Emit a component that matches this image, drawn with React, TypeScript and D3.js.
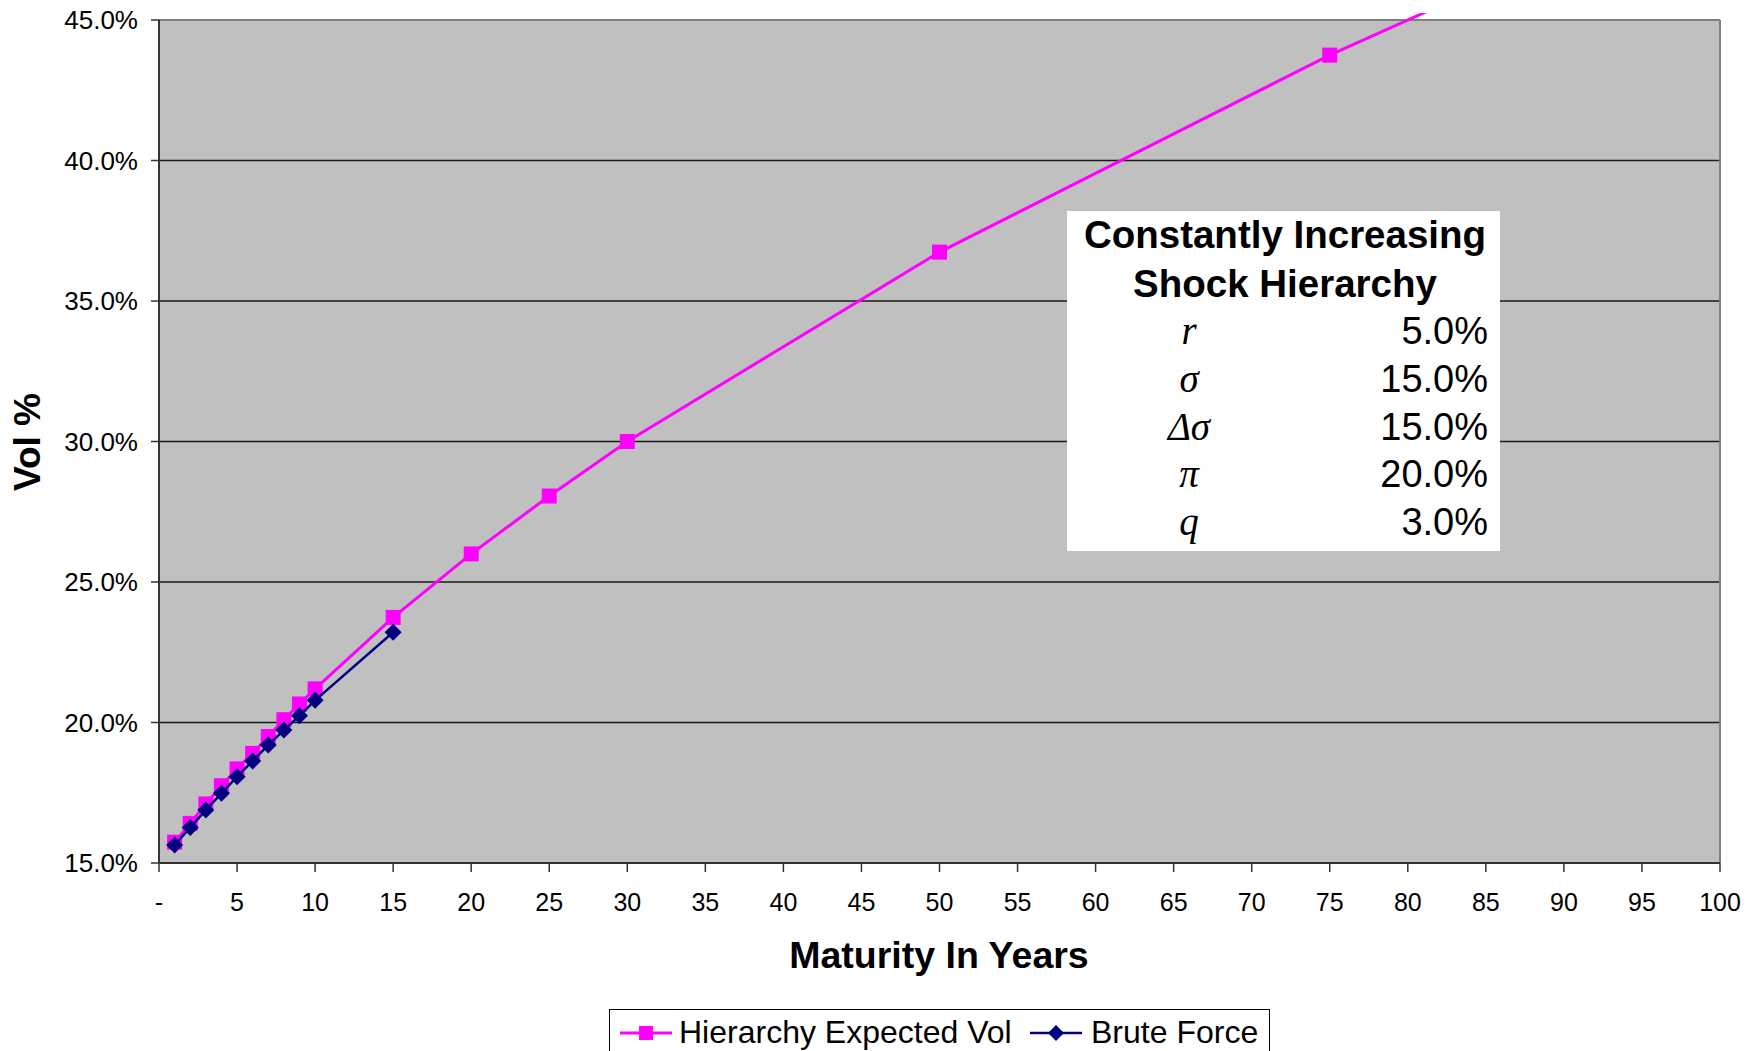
import React from "react";
import * as d3 from "d3";

// Maturities (years) and vols for the hierarchy model
const hierarchyYears = [1, 2, 3, 4, 5, 6, 7, 8, 9, 10, 15, 20, 25, 30, 50, 75, 100];
const hierarchyVol = [
  0.1574, 0.1641, 0.171, 0.1775, 0.1835, 0.189, 0.195, 0.201, 0.2066, 0.212,
  0.2374, 0.26, 0.2806, 0.3, 0.3674, 0.4375, 0.5,
];

// Brute-force simulation results
const bruteYears = [1, 2, 3, 4, 5, 6, 7, 8, 9, 10, 15];
const bruteVol = [
  0.1564, 0.1626, 0.1689, 0.1748, 0.1807, 0.1863, 0.192, 0.1973, 0.2024, 0.2079,
  0.2321,
];

const xTicks = d3.range(0, 101, 5);
const yTicks = [0.15, 0.2, 0.25, 0.3, 0.35, 0.4, 0.45];

const paramSymbols = ["r", "σ", "Δσ", "π", "q"];
const paramValues = ["5.0%", "15.0%", "15.0%", "20.0%", "3.0%"];

const seriesNames = ["Hierarchy Expected Vol", "Brute Force"];

const W = 1757;
const H = 1051;
const PL = 159;
const PR = 1720;
const PT = 20;
const PB = 863;

const PINK = "#FF00FF";
const NAVY = "#000080";
const SANS = "Arial, 'Liberation Sans', Helvetica, sans-serif";
const SERIF = "'Times New Roman', 'Liberation Serif', serif";

export default function App() {
  const x = d3.scaleLinear().domain([0, 100]).range([PL, PR]);
  const y = d3.scaleLinear().domain([0.15, 0.45]).range([PB, PT]);

  const line = d3
    .line<[number, number]>()
    .x((d) => x(d[0]))
    .y((d) => y(d[1]));

  const hier: [number, number][] = hierarchyYears.map((t, i) => [t, hierarchyVol[i]]);
  const brute: [number, number][] = bruteYears.map((t, i) => [t, bruteVol[i]]);

  const fmtX = (v: number) => (v === 0 ? "-" : String(v));
  const fmtY = d3.format(".1%");

  const diamond = (cx: number, cy: number, r: number) =>
    `M${cx},${cy - r}L${cx + r},${cy}L${cx},${cy + r}L${cx - r},${cy}Z`;

  const sq = 15;
  const dm = 8.5;

  // Legend geometry
  const legY = 1033;
  const leg1x0 = 620;
  const leg1x1 = 672;
  const leg2x0 = 1030;
  const leg2x1 = 1082;

  // Parameter box
  const boxX = 1067;
  const boxY = 211;
  const boxW = 433;
  const boxH = 340;
  const rowBase0 = 344;
  const rowStep = 47.8;

  return (
    <svg
      width={W}
      height={H}
      style={{ position: "absolute", left: 0, top: 0, display: "block", background: "#fff" }}
      fontFamily={SANS}
    >
      <defs>
        <clipPath id="series-clip">
          <rect x={PL} y={13} width={PR - PL} height={PB - 13} />
        </clipPath>
      </defs>

      {/* plot area */}
      <rect x={PL} y={PT} width={PR - PL} height={PB - PT} fill="#C0C0C0" />

      {/* gridlines */}
      {yTicks.slice(1, -1).map((t) => (
        <line key={t} x1={PL} x2={PR} y1={y(t)} y2={y(t)} stroke="#1a1a1a" strokeWidth={1.4} />
      ))}

      {/* plot border */}
      <line x1={PL} x2={PR} y1={PT} y2={PT} stroke="#808080" strokeWidth={2} />
      <line x1={PR} x2={PR} y1={PT} y2={PB} stroke="#808080" strokeWidth={2} />

      {/* axes */}
      <line x1={PL} x2={PL} y1={PT} y2={PB} stroke="#333" strokeWidth={2} />
      <line x1={PL} x2={PR} y1={PB} y2={PB} stroke="#333" strokeWidth={2} />

      {/* y ticks and labels */}
      {yTicks.map((t) => (
        <g key={t}>
          <line x1={PL - 8} x2={PL} y1={y(t)} y2={y(t)} stroke="#333" strokeWidth={1.5} />
          <text x={138} y={y(t)} dy="0.36em" textAnchor="end" fontSize={26} fill="#000">
            {fmtY(t)}
          </text>
        </g>
      ))}

      {/* x ticks and labels */}
      {xTicks.map((t) => (
        <g key={t}>
          <line x1={x(t)} x2={x(t)} y1={PB} y2={PB + 9} stroke="#333" strokeWidth={1.5} />
          <text x={x(t)} y={911} textAnchor="middle" fontSize={25} fill="#000">
            {fmtX(t)}
          </text>
        </g>
      ))}

      {/* axis titles */}
      <text x={939} y={968} textAnchor="middle" fontSize={37.5} fontWeight="bold">
        Maturity In Years
      </text>
      <text
        transform={`translate(40,442) rotate(-90)`}
        textAnchor="middle"
        fontSize={37}
        fontWeight="bold"
      >
        Vol %
      </text>

      {/* series */}
      <g clipPath="url(#series-clip)">
        <path d={line(hier) ?? ""} fill="none" stroke={PINK} strokeWidth={3} />
        {hier.map(([t, v]) => (
          <rect key={t} x={x(t) - sq / 2} y={y(v) - sq / 2} width={sq} height={sq} fill={PINK} />
        ))}
        <path d={line(brute) ?? ""} fill="none" stroke={NAVY} strokeWidth={2.5} />
        {brute.map(([t, v]) => (
          <path key={t} d={diamond(x(t), y(v), dm)} fill={NAVY} />
        ))}
      </g>

      {/* parameter box */}
      <rect x={boxX} y={boxY} width={boxW} height={boxH} fill="#fff" />
      <text x={1285} y={248} textAnchor="middle" fontSize={38.5} fontWeight="bold">
        Constantly Increasing
      </text>
      <text x={1285} y={297} textAnchor="middle" fontSize={38.5} fontWeight="bold">
        Shock Hierarchy
      </text>
      {paramSymbols.map((s, i) => (
        <g key={i}>
          <text
            x={1189}
            y={rowBase0 + i * rowStep}
            textAnchor="middle"
            fontSize={39}
            fontStyle="italic"
            fontFamily={SERIF}
          >
            {s}
          </text>
          <text x={1488} y={rowBase0 + i * rowStep} textAnchor="end" fontSize={38}>
            {paramValues[i]}
          </text>
        </g>
      ))}

      {/* legend */}
      <rect x={609.5} y={1009.5} width={660} height={60} fill="#fff" stroke="#000" strokeWidth={1} />
      <line x1={leg1x0} x2={leg1x1} y1={legY} y2={legY} stroke={PINK} strokeWidth={3} />
      <rect x={(leg1x0 + leg1x1) / 2 - 7} y={legY - 7} width={14} height={14} fill={PINK} />
      <text x={679} y={1043} fontSize={32}>
        {seriesNames[0]}
      </text>
      <line x1={leg2x0} x2={leg2x1} y1={legY} y2={legY} stroke={NAVY} strokeWidth={2.5} />
      <path d={diamond((leg2x0 + leg2x1) / 2, legY, 8)} fill={NAVY} />
      <text x={1091} y={1043} fontSize={32}>
        {seriesNames[1]}
      </text>
    </svg>
  );
}
